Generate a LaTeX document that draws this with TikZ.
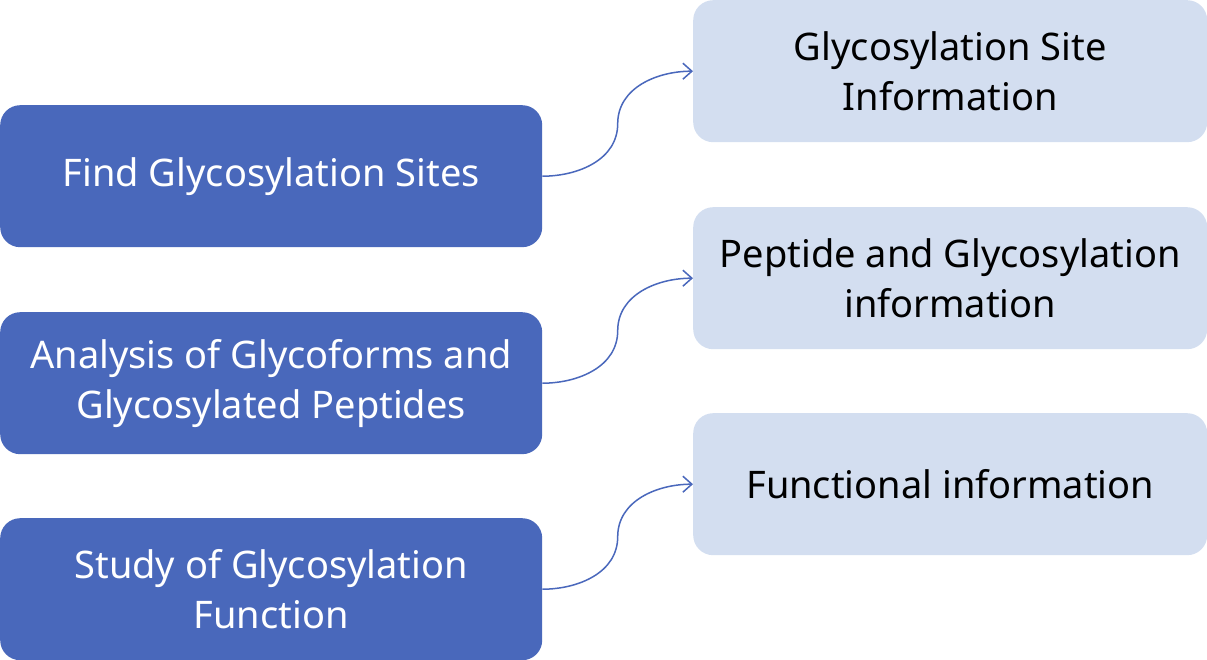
\documentclass[tikz,border=0pt]{standalone}
\usepackage{fontspec}
\setmainfont{Noto Sans}
\usetikzlibrary{arrows.meta,calc}
\definecolor{darkbox}{HTML}{4968BB}
\definecolor{lightbox}{HTML}{D3DEF0}
\definecolor{linkcol}{HTML}{4A68BC}
\begin{document}
\begin{tikzpicture}[x=1pt,y=-1pt,
  leftbox/.style={fill=darkbox,rounded corners=20pt,minimum width=542pt,minimum height=142pt,
    text=white,align=center,font=\fontsize{38}{50}\selectfont,inner sep=0pt,anchor=north west},
  rightbox/.style={fill=lightbox,rounded corners=20pt,minimum width=514pt,minimum height=142pt,
    text=black,align=center,font=\fontsize{38}{50}\selectfont,inner sep=0pt,anchor=north west},
  link/.style={draw=linkcol,line width=1.5pt,-{Straight Barb[length=9pt,width=16pt,line width=1.5pt]}}]
\useasboundingbox (0,0) rectangle (1207,660);
\node[leftbox] (l1) at (0,105) {Find Glycosylation Sites};
\node[leftbox] (l2) at (0,312) {Analysis of Glycoforms and\\Glycosylated Peptides};
\node[leftbox] (l3) at (0,518) {Study of Glycosylation\\Function};
\node[rightbox] (r1) at (693,0) {Glycosylation Site\\Information};
\node[rightbox] (r2) at (693,207) {Peptide and Glycosylation\\information};
\node[rightbox] (r3) at (693,413) {Functional information};
\foreach \a/\b in {l1/r1,l2/r2,l3/r3}{
  \draw[link] (\a.east) to[out=0,in=-90] ($(\a.east)!0.5!(\b.west)$) to[out=90,in=180] (\b.west);
}
\end{tikzpicture}
\end{document}
